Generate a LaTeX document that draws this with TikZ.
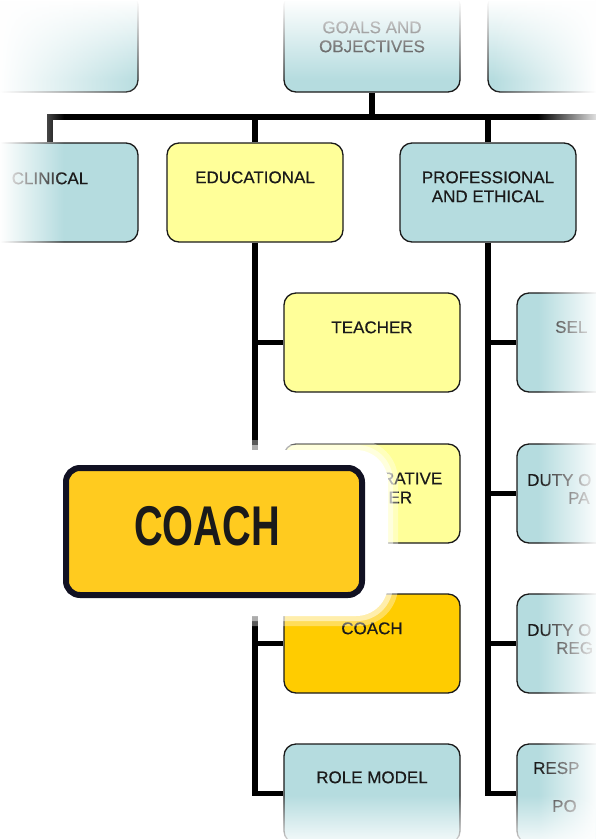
\documentclass[tikz,border=0pt]{standalone}
\usepackage{fontspec}
\setmainfont{Liberation Sans}
\newfontfamily\lblfont{Liberation Sans}[FakeBold=0.4]
\usetikzlibrary{fadings,backgrounds}

\definecolor{boxblue}{HTML}{B5DCDF}
\definecolor{boxyellow}{HTML}{FFFF99}
\definecolor{boxgold}{HTML}{FFCC00}
\definecolor{calloutgold}{HTML}{FFCB1F}
\definecolor{ink}{HTML}{1A1A1A}
\definecolor{rim}{HTML}{111122}

% soft white edges of the chart
\tikzfading[name=fadetop, top color=transparent!0, bottom color=transparent!100]
\tikzfading[name=fadebottom, top color=transparent!100, bottom color=transparent!0]
\tikzfading[name=fadeleft, left color=transparent!0, right color=transparent!100]
\tikzfading[name=faderight, left color=transparent!100, right color=transparent!0]

\tikzset{
  card/.style={draw=ink, line width=1.3pt, rounded corners=12pt,
    minimum width=176pt, minimum height=99pt, inner sep=0pt},
  bluecard/.style={card, fill=boxblue},
  yellowcard/.style={card, fill=boxyellow},
  goldcard/.style={card, fill=boxgold},
  lbl/.style={inner sep=0pt, align=center, text=ink,
    font=\lblfont\fontsize{17}{19}\selectfont},
  sidelbl/.style={lbl, anchor=west},
  conn/.style={line width=5.5pt, draw=black, line join=miter},
}

\begin{document}
\begin{tikzpicture}[x=1pt,y=-1pt]
\useasboundingbox (0,0) rectangle (596,839);
\clip (0,0) rectangle (596,839);

\coordinate (bar) at (0,117);
\coordinate (barend) at (610,117);

% top row
\node[bluecard] (topL) at (50,42.5) {};
\node[bluecard] (goals) at (372,42.5) {};
\node[bluecard] (topR) at (576,42.5) {};
\node[lbl] (goalsL) at ([yshift=-44.5pt]goals.north) {GOALS AND\\OBJECTIVES};

% second row
\node[bluecard] (clin) at (50,192.5) {};
\node[yellowcard] (edu) at (255,192.5) {};
\node[bluecard] (prof) at (488,192.5) {};
\node[lbl] (clinL) at ([yshift=-36pt]clin.north) {CLINICAL};
\node[lbl] (eduL) at ([yshift=-35pt]edu.north) {EDUCATIONAL};
\node[lbl] (profL) at ([yshift=-44.5pt]prof.north) {PROFESSIONAL\\AND ETHICAL};

% educational roles
\node[yellowcard] (teach) at (372,342.5) {};
\node[yellowcard] (collab) at (372,493.5) {};
\node[goldcard] (coach) at (372,643.5) {};
\node[bluecard] (role) at (372,793.5) {};
\node[lbl] (teachL) at ([yshift=-35pt]teach.north) {TEACHER};
\node[lbl] (collabL) at ([yshift=-44.5pt]collab.north) {COLLABORATIVE\\LEARNER};
\node[lbl] (coachL) at ([yshift=-35pt]coach.north) {COACH};
\node[lbl] (roleL) at ([yshift=-34pt]role.north) {ROLE MODEL};

% professional and ethical duties
\node[bluecard] (self) at (605,342.5) {};
\node[bluecard] (dutyp) at (605,493.5) {};
\node[bluecard] (dutyr) at (605,643.5) {};
\node[bluecard] (resp) at (605,793.5) {};
\node[sidelbl] (selfL) at (555,327) {SEL};
\node[sidelbl] (dutypA) at (527,480) {DUTY O};
\node[sidelbl] (dutypB) at (568,498) {PA};
\node[sidelbl] (dutyrA) at (527,630) {DUTY O};
\node[sidelbl] (dutyrB) at (556,648) {REG};
\node[sidelbl] (respA) at (533,768) {RESP};
\node[sidelbl] (respB) at (552,806) {PO};

% connectors
\begin{scope}[on background layer]
  \draw[conn] (goals.south) -- (goals.south |- bar);
  \draw[conn] (clin.north) |- (barend);
  \draw[conn] (edu.north) -- (edu.north |- bar);
  \draw[conn] (prof.north) -- (prof.north |- bar);
  \draw[conn] (edu.south) |- (role.west);
  \draw[conn] (edu.south |- teach.west) -- (teach.west);
  \draw[conn] (edu.south |- collab.west) -- (collab.west);
  \draw[conn] (edu.south |- coach.west) -- (coach.west);
  \draw[conn] (prof.south) |- (resp.west);
  \draw[conn] (prof.south |- self.west) -- (self.west);
  \draw[conn] (prof.south |- dutyp.west) -- (dutyp.west);
  \draw[conn] (prof.south |- dutyr.west) -- (dutyr.west);
\end{scope}

% white fades at the edges
\fill[white, path fading=fadetop] (0,0) rectangle (596,80);
\fill[white, path fading=fadeleft] (0,0) rectangle (145,106);
\fill[white, path fading=fadeleft] (0,106) rectangle (64,262);
\fill[white, path fading=faderight] (492,0) rectangle (596,106);
\fill[white, path fading=faderight] (538,106) rectangle (604,135);
\fill[white, path fading=faderight] (538,262) rectangle (600,839);
\fill[white, path fading=fadebottom] (0,795) rectangle (596,850);

% glow behind the enlarged callout
\fill[white, opacity=0.35, rounded corners=40pt] (38,440) rectangle (398,626);
\fill[white, opacity=0.5, rounded corners=36pt] (43,445) rectangle (393,621);
\fill[white, rounded corners=32pt] (48,450) rectangle (388,616);

% enlarged callout
\node[draw=rim, line width=6pt, fill=calloutgold, rounded corners=14pt,
  minimum width=296pt, minimum height=127pt, inner sep=0pt] (callout) at (214,531.5) {};
\node[inner sep=0pt, text=ink, font=\fontsize{56}{60}\selectfont\bfseries]
  (calloutL) at (207,526) {\scalebox{0.71}[1]{COACH}};
\end{tikzpicture}
\end{document}
